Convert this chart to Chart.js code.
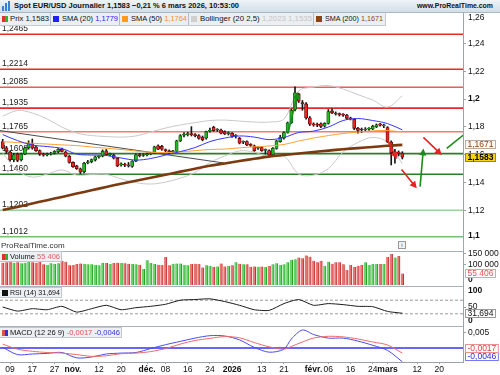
<!DOCTYPE html>
<html><head><meta charset="utf-8">
<script src="https://cdn.jsdelivr.net/npm/chart.js@4.4.1/dist/chart.umd.min.js"></script>
<style>
html,body{margin:0;padding:0;background:#fff;overflow:hidden;}
#wrap{position:relative;width:500px;height:375px;overflow:hidden;font-family:"Liberation Sans",Arial,sans-serif;color:#111;}
#wrap canvas{position:absolute;left:0;top:0;z-index:1;}
.abs{position:absolute;white-space:nowrap;}
#hdr{left:0;top:0;width:500px;height:13px;background:linear-gradient(#eef3f7,#d2dee8);border-bottom:1px solid #a9b7c3;box-sizing:border-box;z-index:3;}
#legend{left:0;top:13px;width:386px;height:13px;background:#eceff2;border-bottom:1px solid #c4cbd2;border-right:1px solid #c4cbd2;box-sizing:border-box;z-index:3;}
.t{position:absolute;top:0;font-size:8px;line-height:12px;transform-origin:0 50%;white-space:nowrap;}
.sq{position:absolute;width:6px;height:6px;top:3px;}
.sep{position:absolute;top:0;width:1px;height:12px;background:#b4bcc4;}
.pbox{position:absolute;left:0;height:11px;background:rgba(236,239,242,0.95);border:1px solid #c2c8ce;border-left:none;box-sizing:border-box;z-index:3;}
#vline{position:absolute;left:463px;top:13px;width:1px;height:349px;background:#a0a8b0;z-index:0;}
</style>
</head><body>
<div id="wrap">
  <div id="vline"></div>
  <canvas id="cPrice" width="500" height="375"></canvas>
  <canvas id="cVol" width="500" height="375"></canvas>
  <canvas id="cRsi" width="500" height="375"></canvas>
  <canvas id="cMacd" width="500" height="375"></canvas>

  <div id="hdr" class="abs">
    <div class="abs" style="left:2px;top:6px;width:2px;height:5px;background:#3b7fd0"></div>
    <div class="abs" style="left:5px;top:3px;width:2px;height:8px;background:#3b7fd0"></div>
    <div class="abs" style="left:8px;top:1px;width:2px;height:10px;background:#3b7fd0"></div>
    <span class="t" style="left:14px;font-weight:bold;line-height:12px" data-w="225">Spot EUR/USD Journalier 1,1583 −0,21 % 6 mars 2026, 10:53:00</span>
    <span class="t" style="left:417px;font-weight:bold;line-height:12px" data-w="76">www.ProRealTime.com</span>
  </div>

  <div id="legend" class="abs">
    <div class="sq" style="left:2px;background:linear-gradient(90deg,#e03030 50%,#2fb02f 50%)"></div>
    <span class="t" style="left:10px" data-w="39">Prix 1,1583</span>
    <div class="sep" style="left:50px"></div>
    <div class="sq" style="left:53px;background:#1f1fff"></div>
    <span class="t" style="left:62px" data-w="56">SMA (20) <span style="color:#2424ff">1,1779</span></span>
    <div class="sep" style="left:119px"></div>
    <div class="sq" style="left:122px;background:#ff9a1a"></div>
    <span class="t" style="left:131px" data-w="56">SMA (50) <span style="color:#f39419">1,1764</span></span>
    <div class="sep" style="left:188px"></div>
    <div class="sq" style="left:191px;background:#cfcfcf"></div>
    <span class="t" style="left:200px" data-w="112">Bollinger (20 2,5) <span style="color:#c4c4c4">1,2023 1,1535</span></span>
    <div class="sep" style="left:313px"></div>
    <div class="sq" style="left:316px;background:#8b4513"></div>
    <span class="t" style="left:325px" data-w="58">SMA (200) <span style="color:#8b4513">1,1671</span></span>
  </div>

  <span class="abs" style="left:1px;top:241px;font-size:8px;line-height:10px;color:#333;z-index:3">ProRealTime.com</span>
  <div class="abs" style="left:398px;top:241px;width:6px;height:6px;border:1px solid #999;background:#f2f2f2;font-size:6px;line-height:6px;text-align:center;color:#555;z-index:3">i</div>

  <div class="pbox" style="top:251px;width:62px">
    <div class="sq" style="left:2px;top:2px;background:linear-gradient(90deg,#e03030 50%,#2fb02f 50%)"></div>
    <span class="t" style="left:10px;line-height:10px" data-w="50">Volume <span style="color:#e36060">55 406</span></span>
  </div>
  <div class="pbox" style="top:287px;width:62px">
    <div class="sq" style="left:2px;top:2px;background:#111"></div>
    <span class="t" style="left:10px;line-height:10px" data-w="50">RSI (14) 31,694</span>
  </div>
  <div class="pbox" style="top:327px;width:122px">
    <div class="sq" style="left:2px;top:2px;background:linear-gradient(90deg,#e05050 50%,#3030e0 50%)"></div>
    <span class="t" style="left:10px;line-height:10px" data-w="110">MACD (12 26 9) <span style="color:#e05050">-0,0017</span> <span style="color:#3030e0">-0,0046</span></span>
  </div>
</div>

<script>
// ---------------- DATA ----------------
// x positions are trading-day indices: 0 = 7 Oct 2025 ... 108 = 6 Mar 2026
const xTickIdx = [2, 8, 14, 19, 26, 32, 39, 44, 50, 56, 62, 70, 76, 84, 88, 94, 100, 104, 112, 118];
const xTickLabels = ['09','17','27','nov.','12','20','déc.','08','16','24','2026','13','21','févr.','06','16','24','mars','12','20'];

const open = [1.1694,1.1650,1.1620,1.1565,1.1605,1.1565,1.1605,1.1650,1.1680,1.1655,
1.1630,1.1601,1.1600,1.1605,1.1612,1.1622,1.1640,1.1620,1.1590,1.1545,
1.1520,1.1500,1.1479,1.1543,1.1550,1.1562,1.1584,1.1590,1.1628,1.1601,
1.1598,1.1575,1.1528,1.1530,1.1525,1.1517,1.1555,1.1598,1.1595,1.1600,
1.1606,1.1615,1.1665,1.1660,1.1636,1.1626,1.1622,1.1624,1.1700,1.1740,
1.1745,1.1748,1.1742,1.1737,1.1728,1.1719,1.1770,1.1797,1.1776,1.1778,
1.1766,1.1752,1.1755,1.1733,1.1719,1.1690,1.1695,1.1672,1.1664,1.1648,
1.1652,1.1632,1.1630,1.1600,1.1645,1.1695,1.1720,1.1760,1.1830,1.1925,
1.2035,1.1975,1.1965,1.1865,1.1818,1.1815,1.1822,1.1805,1.1825,1.1915,
1.1898,1.1892,1.1886,1.1885,1.1862,1.1855,1.1790,1.1782,1.1778,1.1784,
1.1785,1.1800,1.1815,1.1808,1.1795,1.1692,1.1612,1.1618,1.1612];
const high = [1.1711,1.1660,1.1625,1.1610,1.1612,1.1612,1.1655,1.1700,1.1713,1.1665,
1.1635,1.1612,1.1612,1.1618,1.1630,1.1645,1.1648,1.1628,1.1595,1.1550,
1.1525,1.1505,1.1545,1.1560,1.1570,1.1590,1.1595,1.1635,1.1638,1.1612,
1.1605,1.1580,1.1542,1.1540,1.1545,1.1558,1.1605,1.1610,1.1608,1.1612,
1.1618,1.1662,1.1672,1.1668,1.1642,1.1635,1.1632,1.1705,1.1745,1.1760,
1.1762,1.1802,1.1752,1.1745,1.1735,1.1770,1.1792,1.1805,1.1788,1.1785,
1.1772,1.1765,1.1760,1.1745,1.1725,1.1700,1.1700,1.1680,1.1670,1.1660,
1.1658,1.1642,1.1635,1.1652,1.1705,1.1740,1.1765,1.1835,1.1928,1.2088,
1.2042,1.1990,1.1975,1.1875,1.1830,1.1828,1.1830,1.1830,1.1925,1.1930,
1.1908,1.1900,1.1895,1.1890,1.1870,1.1860,1.1798,1.1792,1.1795,1.1795,
1.1812,1.1822,1.1825,1.1820,1.1802,1.1700,1.1640,1.1628,1.1622];
const low = [1.1642,1.1610,1.1555,1.1550,1.1550,1.1555,1.1600,1.1640,1.1640,1.1625,
1.1595,1.1590,1.1592,1.1598,1.1605,1.1615,1.1620,1.1585,1.1540,1.1510,
1.1495,1.1465,1.1470,1.1535,1.1542,1.1555,1.1575,1.1585,1.1595,1.1592,
1.1570,1.1515,1.1518,1.1515,1.1512,1.1510,1.1550,1.1585,1.1588,1.1592,
1.1600,1.1610,1.1636,1.1632,1.1622,1.1610,1.1615,1.1618,1.1695,1.1728,
1.1735,1.1735,1.1728,1.1712,1.1700,1.1712,1.1762,1.1768,1.1768,1.1750,
1.1745,1.1742,1.1725,1.1720,1.1678,1.1680,1.1665,1.1660,1.1625,1.1638,
1.1625,1.1605,1.1587,1.1595,1.1640,1.1690,1.1712,1.1755,1.1825,1.1915,
1.1975,1.1920,1.1855,1.1810,1.1805,1.1802,1.1795,1.1798,1.1820,1.1895,
1.1885,1.1878,1.1875,1.1855,1.1850,1.1780,1.1755,1.1760,1.1770,1.1775,
1.1780,1.1795,1.1805,1.1795,1.1688,1.1527,1.1540,1.1592,1.1570];
const close = [1.1647,1.1625,1.1565,1.1600,1.1560,1.1605,1.1650,1.1680,1.1648,1.1630,
1.1605,1.1598,1.1604,1.1612,1.1625,1.1640,1.1625,1.1590,1.1545,1.1515,
1.1500,1.1475,1.1539,1.1548,1.1565,1.1585,1.1588,1.1625,1.1600,1.1605,
1.1575,1.1520,1.1532,1.1525,1.1520,1.1555,1.1600,1.1594,1.1600,1.1606,
1.1612,1.1658,1.1640,1.1640,1.1630,1.1622,1.1626,1.1700,1.1737,1.1745,
1.1748,1.1745,1.1737,1.1718,1.1708,1.1766,1.1775,1.1773,1.1779,1.1755,
1.1750,1.1755,1.1731,1.1737,1.1683,1.1693,1.1671,1.1668,1.1630,1.1652,
1.1630,1.1636,1.1599,1.1647,1.1700,1.1725,1.1760,1.1830,1.1920,1.2045,
1.1985,1.1965,1.1865,1.1820,1.1815,1.1812,1.1803,1.1825,1.1910,1.1900,
1.1893,1.1888,1.1885,1.1862,1.1858,1.1790,1.1775,1.1778,1.1782,1.1786,
1.1805,1.1815,1.1813,1.1812,1.1692,1.1615,1.1620,1.1612,1.1583];
const volumeThousands = [108,110,115,108,110,105,108,112,110,108,
112,100,97,105,103,105,117,113,95,97,
102,104,103,100,100,97,95,108,106,102,
106,108,107,105,103,101,100,98,77,120,
106,101,98,97,135,95,103,104,104,97,
96,102,103,102,85,96,93,88,90,104,
90,92,96,110,103,100,100,88,90,88,
89,87,92,100,105,97,100,110,122,125,
133,130,143,137,117,110,117,93,113,103,
110,110,100,72,97,87,93,97,110,97,
102,102,102,102,135,150,133,140,55.406];

// indicator lines, sampled every 4 sessions
const lineIdx = [0,4,8,12,16,20,24,28,32,36,40,44,48,52,56,60,64,68,72,76,80,84,88,92,96,100,104,108];
const sma20 = [1.1745,1.1702,1.1670,1.1659,1.1645,1.1605,1.1598,1.1595,1.1577,1.1562,1.1573,1.1598,1.1623,1.1652,1.1695,1.1720,1.1735,1.1727,1.1709,1.1724,1.1760,1.1770,1.1799,1.1846,1.1860,1.1846,1.1824,1.1779];
const sma50 = [1.1694,1.1688,1.1683,1.1677,1.1671,1.1666,1.1656,1.1647,1.1638,1.1627,1.1618,1.1616,1.1620,1.1630,1.1638,1.1641,1.1650,1.1657,1.1663,1.1674,1.1699,1.1720,1.1738,1.1753,1.1763,1.1772,1.1774,1.1764];
const bbUpper = [1.1878,1.1918,1.1900,1.1857,1.1799,1.1756,1.1738,1.1731,1.1727,1.1735,1.1763,1.1792,1.1814,1.1831,1.1846,1.1849,1.1842,1.1835,1.1835,1.1857,1.2058,1.2086,1.2097,1.2072,1.2032,1.1993,1.1943,1.2023];
const bbLower = [1.1612,1.1486,1.1440,1.1461,1.1491,1.1454,1.1458,1.1459,1.1427,1.1400,1.1390,1.1404,1.1432,1.1473,1.1544,1.1591,1.1628,1.1619,1.1583,1.1591,1.1462,1.1454,1.1501,1.1620,1.1688,1.1725,1.1690,1.1535];
const sma200 = [1.1203,1.1226,1.1250,1.1274,1.1297,1.1322,1.1345,1.1369,1.1392,1.1414,1.1435,1.1457,1.1479,1.1500,1.1521,1.1538,1.1555,1.1572,1.1587,1.1598,1.1609,1.1620,1.1630,1.1640,1.1648,1.1656,1.1665,1.1671];
const rsi14 = [50,38,45,42,52,35,45,55,42,48,52,58,70,72,74,66,55,42,40,60,72,55,60,57,52,51,37,31.694];

const macdIdx = [0,4,8,12,16,20,24,28,32,36,40,44,48,52,56,60,64,68,72,76,78,81,84,88,92,96,100,104,108];
const macdBlue = [0.0002,-0.0022,-0.0020,-0.0018,-0.0015,-0.0033,-0.0030,-0.0020,-0.0017,-0.0015,-0.0002,0.0011,0.0022,0.0033,0.0041,0.0040,0.0027,0.0002,-0.0014,-0.0004,0.0030,0.0060,0.0045,0.0033,0.0033,0.0023,0.0009,-0.0008,-0.0046];
const macdRed = [0.0013,-0.0004,-0.0011,-0.0015,-0.0017,-0.0022,-0.0028,-0.0026,-0.0019,-0.0017,-0.0012,-0.0002,0.0013,0.0025,0.0032,0.0038,0.0034,0.0018,0.0004,-0.0004,0.0005,0.0020,0.0033,0.0039,0.0037,0.0030,0.0020,0.0010,-0.0017];

// drawn objects
const levelPrices = [1.2465,1.2214,1.2085,1.1935,1.1765,1.1608,1.1460,1.1202,1.1012];
const levelLabels = ['1,2465','1,2214','1,2085','1,1935','1,1765','1,1608','1,1460','1,1202','1,1012'];
const trendIdx = [-0.73, 59.8];
const trendPrice = [1.1774, 1.1541];
const arrowFromIdx = [77.1, 104.1, 107.8, 112.8, 113.7, 120.0];
const arrowFromPrice = [1.1756, 1.1699, 1.1495, 1.1371, 1.1725, 1.1646];
const arrowToIdx = [79.8, 106.6, 111.9, 113.7, 118.7, 124.5];
const arrowToPrice = [1.2050, 1.1569, 1.1359, 1.1646, 1.1598, 1.1742];
const arrowUp = [true, false, false, true, false, true];
const arrowHead = [true, true, true, true, true, false];

const priceTicks = [1.12,1.14,1.16,1.18,1.2,1.22,1.24];
const priceEdgeTicks = [1.26, 1.1];
const volTicks = [100, 150];
const rsiTicks = [50];
const rsiEdgeTicks = [100, 0];
const macdTicks = [0.005];

// ---------------- STYLE ----------------
const FONT = '"Liberation Sans", Arial, sans-serif';
const levelColors = ['#e42a2a','#e42a2a','#f15858','#e42a2a','#f37a7a','#2a7e2a','#2a7e2a','#9ad39a','#79bd79'];
const X_MIN = -0.73, X_MAX = 124.4;
Chart.defaults.font.family = FONT;
Chart.defaults.font.size = 8;
Chart.defaults.color = '#111';

const fmtPrice = v => String(Math.round(v * 100) / 100).replace('.', ',');
const fmtPrice4 = v => v.toFixed(4).replace('.', ',');
const isRound = v => Math.abs(v * 10 - Math.round(v * 10)) < 1e-6;
const last = a => a[a.length - 1];
const pts = (xs, ys) => xs.map((x, k) => ({x: x, y: ys[k]}));

function xAxis(show) {
  const ax = {type: 'linear', min: X_MIN, max: X_MAX, display: show, offset: false,
    grid: {display: false}};
  if (show) {
    Object.assign(ax, {
      afterBuildTicks: s => { s.ticks = xTickIdx.map(v => ({value: v})); },
      afterFit: s => { s.height = 13; },
      ticks: {autoSkip: false, maxRotation: 0, minRotation: 0, padding: 1, color: '#111',
        font: c => {
          const k = xTickIdx.indexOf(c.tick && c.tick.value);
          const lab = xTickLabels[k] || '';
          return {family: FONT, size: 8.5, weight: /[a-zé]|2026/.test(lab) ? 'bold' : 'normal'};
        },
        callback: (v, k) => xTickLabels[k]},
      grid: {display: true, drawOnChartArea: false, drawTicks: true, tickLength: 2, color: '#9aa2aa'},
      border: {display: true, color: '#9aa2aa'}
    });
  }
  return ax;
}
function yAxis(min, max, ticks, fmt, boldFn) {
  return {position: 'right', min: min, max: max,
    afterFit: s => { s.width = 37; },
    afterBuildTicks: s => { s.ticks = ticks.map(v => ({value: v})); },
    ticks: {padding: 2, color: '#111', autoSkip: false,
      font: c => ({family: FONT, size: 8.5, weight: (boldFn && c.tick && boldFn(c.tick.value)) ? 'bold' : 'normal'}),
      callback: v => fmt(v)},
    grid: {drawOnChartArea: false, drawTicks: true, tickLength: 3, color: '#9aa2aa'},
    border: {display: true, color: '#9aa2aa'}};
}

// ---------------- PLUGINS ----------------
const panelTop = {
  id: 'panelTop',
  afterDraw(chart, args, o) {
    if (!o.on) return;
    const {ctx, chartArea: a} = chart;
    ctx.save(); ctx.strokeStyle = '#a9b2ba'; ctx.lineWidth = 1;
    ctx.beginPath(); ctx.moveTo(0, Math.round(a.top) + 0.5); ctx.lineTo(a.right, Math.round(a.top) + 0.5); ctx.stroke();
    ctx.restore();
  }
};
const hLines = {
  id: 'hLines',
  beforeDatasetsDraw(chart, args, o) {
    const items = o.items || [];
    const {ctx, chartArea: a, scales: {y}} = chart;
    ctx.save();
    items.forEach(it => {
      const py = y.getPixelForValue(it.v);
      ctx.strokeStyle = it.color; ctx.lineWidth = it.w || 1;
      ctx.setLineDash(it.dash || []);
      ctx.beginPath(); ctx.moveTo(a.left, py); ctx.lineTo(a.right, py); ctx.stroke();
      if (it.label) {
        ctx.setLineDash([]);
        ctx.fillStyle = '#1a1a1a'; ctx.font = '8.5px ' + FONT; ctx.textBaseline = 'bottom'; ctx.textAlign = 'left';
        ctx.fillText(it.label, a.left + 2, py - 1);
      }
    });
    ctx.restore();
  }
};
const arrows = {
  id: 'arrows',
  afterDatasetsDraw(chart, args, o) {
    if (!o.on) return;
    const {ctx, chartArea: a, scales: {x, y}} = chart;
    ctx.save();
    ctx.beginPath(); ctx.rect(a.left, a.top, a.right - a.left, a.bottom - a.top); ctx.clip();
    arrowFromIdx.forEach((fi, k) => {
      const x1 = x.getPixelForValue(fi), y1 = y.getPixelForValue(arrowFromPrice[k]);
      const x2 = x.getPixelForValue(arrowToIdx[k]), y2 = y.getPixelForValue(arrowToPrice[k]);
      const col = arrowUp[k] ? '#1e8a1e' : '#e62222';
      const ang = Math.atan2(y2 - y1, x2 - x1), hl = 7, hw = 3.6;
      ctx.strokeStyle = col; ctx.fillStyle = col; ctx.lineWidth = 1.6;
      const shorten = arrowHead[k] ? hl * 0.7 : 0;
      ctx.beginPath(); ctx.moveTo(x1, y1);
      ctx.lineTo(x2 - shorten * Math.cos(ang), y2 - shorten * Math.sin(ang)); ctx.stroke();
      if (arrowHead[k]) {
        ctx.beginPath(); ctx.moveTo(x2, y2);
        ctx.lineTo(x2 - hl * Math.cos(ang) + hw * Math.sin(ang), y2 - hl * Math.sin(ang) - hw * Math.cos(ang));
        ctx.lineTo(x2 - hl * Math.cos(ang) - hw * Math.sin(ang), y2 - hl * Math.sin(ang) + hw * Math.cos(ang));
        ctx.closePath(); ctx.fill();
      }
    });
    ctx.restore();
  }
};
const edgeLabels = {
  id: 'edgeLabels',
  afterDraw(chart, args, o) {
    const items = o.items || [];
    const {ctx, chartArea: a, scales: {y}} = chart;
    ctx.save();
    items.forEach(it => {
      const py = Math.min(Math.max(y.getPixelForValue(it.v), a.top + 5), a.bottom - 5);
      ctx.fillStyle = '#111'; ctx.font = (it.bold ? 'bold ' : '') + '8.5px ' + FONT;
      ctx.textBaseline = 'middle'; ctx.textAlign = 'left';
      ctx.fillText(it.t, a.right + 5, py);
    });
    ctx.restore();
  }
};
const sideBoxes = {
  id: 'sideBoxes',
  afterDraw(chart, args, o) {
    const items = o.items || [];
    if (!items.length) return;
    const {ctx, chartArea: a, scales: {y}} = chart;
    const h = 9, gap = o.gap || 10;
    const pos = items.map(it => ({it: it, y: Math.min(Math.max(y.getPixelForValue(it.v), a.top + h / 2 + 1), a.bottom - h / 2 - 1)}));
    pos.sort((p, q) => q.y - p.y);
    for (let k = 1; k < pos.length; k++) if (pos[k - 1].y - pos[k].y < gap) pos[k].y = pos[k - 1].y - gap;
    ctx.save();
    pos.forEach(p => {
      const it = p.it;
      ctx.font = (it.bold ? 'bold ' : '') + '8.5px ' + FONT;
      const w = ctx.measureText(it.t).width + 5;
      const x0 = a.right + 2, top = Math.round(p.y - h / 2);
      ctx.fillStyle = it.bg; ctx.fillRect(x0, top, w, h);
      ctx.strokeStyle = it.border; ctx.lineWidth = 1; ctx.strokeRect(x0 + 0.5, top + 0.5, w - 1, h - 1);
      ctx.fillStyle = it.color; ctx.textBaseline = 'middle'; ctx.textAlign = 'left';
      ctx.fillText(it.t, x0 + 2.5, top + h / 2 + 0.5);
    });
    ctx.restore();
  }
};
Chart.register(panelTop, hLines, arrows, edgeLabels, sideBoxes);

function baseOptions(padTop, padBottom, showX, yScale, plugins) {
  return {responsive: false, animation: false, devicePixelRatio: 1, events: [],
    layout: {padding: {top: padTop, bottom: padBottom, left: 0, right: 0}},
    scales: {x: xAxis(showX), y: yScale},
    plugins: Object.assign({legend: {display: false}, tooltip: {enabled: false}}, plugins)};
}

// ---------------- PRICE ----------------
const idx = close.map((c, i) => i);
const up = idx.map(i => close[i] >= open[i]);
new Chart(document.getElementById('cPrice'), {
  type: 'bar',
  data: {datasets: [
    {type: 'line', data: pts(lineIdx, sma200), borderColor: '#7b3a10', borderWidth: 2.6, pointRadius: 0, tension: 0.3, order: 0},
    {type: 'line', data: pts(lineIdx, sma20), borderColor: '#3535ff', borderWidth: 1, pointRadius: 0, tension: 0.35, order: 1},
    {type: 'line', data: pts(lineIdx, sma50), borderColor: '#ffa232', borderWidth: 1, pointRadius: 0, tension: 0.35, order: 2},
    {data: idx.map(i => ({x: i, y: [open[i], close[i]]})), backgroundColor: up.map(u => u ? '#25b825' : '#ec2424'),
      borderColor: up.map(u => u ? '#0d4d0d' : '#5a0a0a'), borderWidth: 0.8, borderSkipped: false,
      barThickness: 3.2, minBarLength: 1, grouped: false, order: 3},
    {data: idx.map(i => ({x: i, y: [low[i], high[i]]})), backgroundColor: '#151515', borderWidth: 0,
      barThickness: 1, grouped: false, order: 4},
    {type: 'line', data: pts(trendIdx, trendPrice), borderColor: '#4a4a4a', borderWidth: 1, pointRadius: 0, order: 5},
    {type: 'line', data: pts(lineIdx, bbUpper), borderColor: '#c9c9c9', borderWidth: 1, pointRadius: 0, tension: 0.35, order: 6},
    {type: 'line', data: pts(lineIdx, bbLower), borderColor: '#c9c9c9', borderWidth: 1, pointRadius: 0, tension: 0.35, order: 6}
  ]},
  options: baseOptions(13, 134, false, yAxis(1.0981, 1.2618, priceTicks, fmtPrice, isRound), {
    hLines: {items: levelPrices.map((p, k) => ({v: p, color: levelColors[k], w: 1.6, label: levelLabels[k]}))},
    arrows: {on: true},
    edgeLabels: {items: priceEdgeTicks.map(v => ({v: v, t: fmtPrice(v), bold: isRound(v)}))},
    sideBoxes: {gap: 10, items: [
      {v: last(sma200), t: fmtPrice4(last(sma200)), color: '#8b4513', bg: '#fbf8f5', border: '#b8aca2'},
      {v: last(close), t: fmtPrice4(last(close)), color: '#000', bg: '#f6d21a', border: '#9c8a1c', bold: true}
    ]}
  })
});

// ---------------- VOLUME ----------------
new Chart(document.getElementById('cVol'), {
  type: 'bar',
  data: {datasets: [{
    data: idx.map(i => ({x: i, y: volumeThousands[i]})),
    backgroundColor: up.map(u => u ? '#6cd46c' : '#e87676'),
    borderColor: up.map(u => u ? '#24a024' : '#c43030'),
    borderWidth: {left: 0, right: 1, top: 0, bottom: 0}, borderSkipped: false,
    barThickness: 2.8, grouped: false}]},
  options: baseOptions(251, 90, false,
    yAxis(0, 164.5, volTicks, v => String(v) + ' 000'), {
      panelTop: {on: true},
      edgeLabels: {items: [{v: 0, t: '0', bold: true}]},
      sideBoxes: {items: [{v: last(volumeThousands), t: '55 406', color: '#e05555', bg: '#ffffff', border: '#eaa0a0'}]}
    })
});

// ---------------- RSI ----------------
new Chart(document.getElementById('cRsi'), {
  type: 'line',
  data: {datasets: [{data: pts(lineIdx, rsi14), borderColor: '#1a1a1a', borderWidth: 1, pointRadius: 0, tension: 0.2}]},
  options: baseOptions(286, 49, false,
    yAxis(-5.9, 111.8, rsiTicks, v => String(v)), {
      panelTop: {on: true},
      hLines: {items: [{v: 70, color: '#9a9a9a', w: 1, dash: [3, 2]}, {v: 30, color: '#9a9a9a', w: 1, dash: [3, 2]}]},
      edgeLabels: {items: rsiEdgeTicks.map(v => ({v: v, t: String(v), bold: true}))},
      sideBoxes: {items: [{v: last(rsi14), t: '31,694', color: '#111', bg: '#ffffff', border: '#9a9a9a'}]}
    })
});

// ---------------- MACD ----------------
new Chart(document.getElementById('cMacd'), {
  type: 'line',
  data: {datasets: [
    {data: pts(macdIdx, macdRed), borderColor: '#ee6a6a', borderWidth: 1, pointRadius: 0, tension: 0.3},
    {data: pts(macdIdx, macdBlue), borderColor: '#4a4af0', borderWidth: 1, pointRadius: 0, tension: 0.3}
  ]},
  options: baseOptions(326, 0, true,
    yAxis(-0.00467, 0.00733, macdTicks, v => v.toFixed(3).replace('.', ',')), {
      panelTop: {on: true},
      hLines: {items: [{v: 0, color: '#3333ff', w: 1.5}]},
      sideBoxes: {gap: 8.5, items: [
        {v: last(macdRed), t: '-0,0017', color: '#e04040', bg: '#ffffff', border: '#ee9090'},
        {v: last(macdBlue), t: '-0,0046', color: '#2a2ae0', bg: '#ffffff', border: '#7a7af0'}
      ]}
    })
});

// fit header / legend texts to the reference widths
document.querySelectorAll('[data-w]').forEach(el => {
  const w = parseFloat(el.dataset.w);
  const r = el.getBoundingClientRect().width;
  if (r > 0) el.style.transform = 'scaleX(' + (w / r).toFixed(3) + ')';
});
</script>
</body></html>
